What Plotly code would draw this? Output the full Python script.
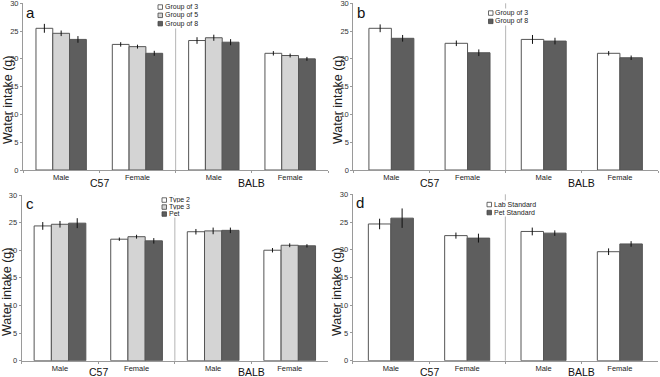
import plotly.graph_objects as go

# ---------------- data ----------------
strains = ["C57", "BALB"]
sexes = ["Male", "Female", "Male", "Female"]
cats = ["C57 Male", "C57 Female", "BALB Male", "BALB Female"]

# panel a : group size
a_names = ["Group of 3", "Group of 5", "Group of 8"]
a_g3 = [25.5, 22.6, 23.3, 21.0]
a_g3_err = [0.8, 0.4, 0.6, 0.4]
a_g5 = [24.6, 22.2, 23.8, 20.6]
a_g5_err = [0.5, 0.35, 0.55, 0.35]
a_g8 = [23.5, 21.0, 23.0, 20.0]
a_g8_err = [0.6, 0.45, 0.55, 0.35]

# panel b : group of 3 vs group of 8
b_names = ["Group of 3", "Group of 8"]
b_g3 = [25.5, 22.8, 23.5, 21.0]
b_g3_err = [0.7, 0.5, 0.8, 0.4]
b_g8 = [23.7, 21.1, 23.2, 20.2]
b_g8_err = [0.6, 0.6, 0.6, 0.4]

# panel c : cage type
c_names = ["Type 2", "Type 3", "Pet"]
c_t2 = [24.4, 22.0, 23.35, 20.0]
c_t2_err = [0.7, 0.3, 0.5, 0.4]
c_t3 = [24.7, 22.45, 23.5, 20.9]
c_t3_err = [0.6, 0.35, 0.6, 0.35]
c_pet = [24.9, 21.7, 23.6, 20.8]
c_pet_err = [0.9, 0.5, 0.5, 0.3]

# panel d : standard
d_names = ["Lab Standard", "Pet Standard"]
d_lab = [24.65, 22.55, 23.3, 19.65]
d_lab_err = [0.95, 0.55, 0.7, 0.6]
d_pet = [25.7, 22.1, 23.0, 21.05]
d_pet_err = [1.75, 0.8, 0.5, 0.5]

y_ticks = [0, 5, 10, 15, 20, 25, 30]
y_title = "Water intake (g)"
panel_letters = ["a", "b", "c", "d"]

# ---------------- style ----------------
W, H = 660, 377
WHITE, LIGHT, DARK = "#ffffff", "#d4d4d4", "#5e5e5e"
OUTLINE = "#555555"
AXIS = "#9a9a9a"
FONT = "Liberation Sans, Arial, sans-serif"


def px_x(p):
    return p / W


def px_y(p):
    return 1 - p / H


panels = [
    dict(letter=panel_letters[0], names=a_names, vals=[a_g3, a_g5, a_g8],
         errs=[a_g3_err, a_g5_err, a_g8_err], colors=[WHITE, LIGHT, DARK],
         xd=(23, 328.3), yd=(170, 3.3), width=0.22, lab_shift=-13,
         leg=(158, 7, 8.3), letter_pos=(30, 12), title_pos=(8, 100)),
    dict(letter=panel_letters[1], names=b_names, vals=[b_g3, b_g8],
         errs=[b_g3_err, b_g8_err], colors=[WHITE, DARK],
         xd=(353.3, 658), yd=(170, 3.3), width=0.295, lab_shift=-13,
         leg=(488.5, 13, 8.3), letter_pos=(361, 12), title_pos=(338, 100)),
    dict(letter=panel_letters[2], names=c_names, vals=[c_t2, c_t3, c_pet],
         errs=[c_t2_err, c_t3_err, c_pet_err], colors=[WHITE, LIGHT, DARK],
         xd=(21.7, 328), yd=(360.7, 195), width=0.225, lab_shift=-11.5,
         leg=(162, 200, 7), letter_pos=(29.5, 203), title_pos=(7, 292)),
    dict(letter=panel_letters[3], names=d_names, vals=[d_lab, d_pet],
         errs=[d_lab_err, d_pet_err], colors=[WHITE, DARK],
         xd=(352.7, 658), yd=(360.7, 194.3), width=0.295, lab_shift=-11.5,
         leg=(487, 204.5, 8), letter_pos=(360, 202), title_pos=(337, 292)),
]

fig = go.Figure()
shapes = []
annotations = []

for i, p in enumerate(panels):
    n = i + 1
    xa = "x" if n == 1 else f"x{n}"
    ya = "y" if n == 1 else f"y{n}"
    k = len(p["vals"])
    w = p["width"]
    for j in range(k):
        fig.add_trace(go.Bar(
            x=cats, y=p["vals"][j], name=p["names"][j],
            width=w, offset=(j - k / 2) * w,
            marker=dict(color=p["colors"][j], line=dict(color=OUTLINE, width=1)),
            error_y=dict(type="data", array=p["errs"][j], color="#111111",
                         thickness=1, width=0),
            xaxis=xa, yaxis=ya, showlegend=False,
        ))

    xkey = "xaxis" if n == 1 else f"xaxis{n}"
    ykey = "yaxis" if n == 1 else f"yaxis{n}"
    fig.update_layout({
        xkey: dict(domain=[px_x(p["xd"][0]), px_x(p["xd"][1])], anchor=ya,
                   type="category", categoryorder="array", categoryarray=cats,
                   tickmode="array", tickvals=cats, ticktext=sexes,
                   tickson="boundaries", ticks="outside", ticklen=2,
                   tickcolor=AXIS, showline=True, linecolor=AXIS, linewidth=1,
                   showgrid=False, zeroline=False, ticklabeloverflow="allow",
                   tickfont=dict(size=7.5, color="#222222", family=FONT),
                   range=[-0.5, 3.5]),
        ykey: dict(domain=[px_y(p["yd"][0]), px_y(p["yd"][1])], anchor=xa,
                   range=[0, 30], tickmode="array", tickvals=y_ticks,
                   ticks="outside", ticklen=2, tickcolor=AXIS,
                   showline=True, linecolor=AXIS, linewidth=1,
                   showgrid=False, zeroline=False, ticklabeloverflow="allow",
                   tickfont=dict(size=7.5, color="#333333", family=FONT)),
    })

    # separator between strains
    shapes.append(dict(type="line", xref=xa, yref=f"{ya} domain",
                       x0=1.5, x1=1.5, y0=0, y1=1,
                       line=dict(color="#b5b5b5", width=1), layer="below"))

    # strain labels
    for s_i, s in enumerate(strains):
        annotations.append(dict(text=s, xref=xa, yref=f"{ya} domain",
                                x=0.5 + 2 * s_i, y=0, yanchor="middle",
                                yshift=p["lab_shift"], showarrow=False,
                                font=dict(size=10.5, color="#111111", family=FONT)))

    # panel letter
    annotations.append(dict(text=p["letter"], xref="paper", yref="paper",
                            x=px_x(p["letter_pos"][0]), y=px_y(p["letter_pos"][1]),
                            xanchor="center", yanchor="middle", showarrow=False,
                            font=dict(size=15, color="#111111", family=FONT)))

    # y title
    annotations.append(dict(text=y_title, xref="paper", yref="paper",
                            x=px_x(p["title_pos"][0]), y=px_y(p["title_pos"][1]),
                            xanchor="center", yanchor="middle", textangle=-90,
                            showarrow=False,
                            font=dict(size=12.5, color="#222222", family=FONT)))

    # legend (compact, drawn with shapes + text)
    lx, ly, step = p["leg"]
    for j in range(k):
        cy = ly + j * step
        annotations.append(dict(text=p["names"][j], xref="paper", yref="paper",
                                x=px_x(lx + 5.5), y=px_y(cy), xanchor="left",
                                yanchor="middle", showarrow=False,
                                bgcolor="white", borderpad=0,
                                font=dict(size=7, color="#222222", family=FONT)))
        shapes.append(dict(type="rect", xref="paper", yref="paper",
                           x0=px_x(lx), x1=px_x(lx + 4.5),
                           y0=px_y(cy + 2.3), y1=px_y(cy - 2.2),
                           fillcolor=p["colors"][j],
                           line=dict(color="#444444", width=0.8), layer="above"))

fig.update_layout(
    width=W, height=H,
    margin=dict(l=0, r=0, t=0, b=0, autoexpand=False),
    paper_bgcolor="white", plot_bgcolor="white",
    barmode="overlay", showlegend=False,
    shapes=shapes, annotations=annotations,
    font=dict(family=FONT),
)

fig.write_html(
    "out.html",
    config={"displayModeBar": False},
    post_script="document.body.style.margin='0px';document.body.style.padding='0px';",
)
